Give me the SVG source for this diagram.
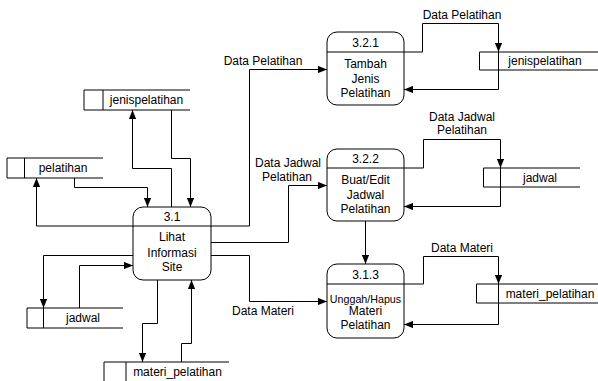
<svg xmlns="http://www.w3.org/2000/svg" width="598" height="381" viewBox="0 0 598 381">
<style>
.n{fill:#fff;stroke:#000;stroke-width:1}
.d{stroke:#000;stroke-width:1;fill:none}
.s{stroke:#000;stroke-width:1;fill:none}
.c{stroke:#000;stroke-width:1;fill:none;marker-end:url(#a)}
text{font-family:"Liberation Sans",Arial,sans-serif;font-size:12px;fill:#000;text-anchor:middle}
.sm{font-size:10.7px}
</style>
<defs>
<marker id="a" viewBox="0 0 10 8" markerUnits="userSpaceOnUse" markerWidth="9" markerHeight="7.5" refX="10" refY="4" orient="auto">
<path d="M0,0 L10,4 L0,8 z" fill="#000"/>
</marker>
</defs>
<rect width="598" height="381" fill="#fff"/>
<g id="connectors">
<path class="c" d="M171.5,207 V168.5 H132.5 V110"/>
<path class="c" d="M171.5,110 V158.5 H190.5 V207"/>
<path class="c" d="M74.5,178 V187.5 H147.5 V207"/>
<path class="c" d="M133,226 H36.5 V178"/>
<path class="c" d="M211,226 H249.5 V69.5 H327"/>
<path class="c" d="M211,242.5 H288.5 V185.5 H327"/>
<path class="c" d="M211,255.5 H249.5 V301.5 H327"/>
<path class="c" d="M133,255.5 H43.5 V308"/>
<path class="c" d="M79.5,308 V265.5 H133"/>
<path class="c" d="M157.5,280 V323.5 H142.5 V362"/>
<path class="c" d="M181.5,362 V343.5 H191.5 V280"/>
<path class="c" d="M404,52 H422.5 V23.5 H498.5 V52"/>
<path class="c" d="M498.5,70 V89.5 H404"/>
<path class="c" d="M404,168 H423.5 V139.5 H500.5 V168"/>
<path class="c" d="M500.5,187 V206.5 H404"/>
<path class="c" d="M365.5,221 V264"/>
<path class="c" d="M404,284 H423.5 V256.5 H498.5 V284"/>
<path class="c" d="M498.5,303 V324.5 H404"/>
<text x="263" y="65">Data Pelatihan</text>
<text x="462" y="19">Data Pelatihan</text>
<text x="288" y="167">Data Jadwal</text>
<text x="287" y="181">Pelatihan</text>
<text x="462" y="121">Data Jadwal</text>
<text x="462" y="134">Pelatihan</text>
<text x="263" y="315">Data Materi</text>
<text x="462" y="252">Data Materi</text>
</g>
<g id="p31">
<rect class="n" x="133" y="207" width="78" height="73" rx="10"/>
<path class="d" d="M133,226 H211"/>
<text x="172" y="221">3.1</text>
<text x="172" y="241">Lihat</text>
<text x="172" y="256.5">Informasi</text>
<text x="172" y="271">Site</text>
</g>
<g id="p321">
<rect class="n" x="327" y="32" width="77" height="73" rx="10"/>
<path class="d" d="M327,52 H404"/>
<text x="365.5" y="47">3.2.1</text>
<text x="365.5" y="67.5">Tambah</text>
<text x="365.5" y="82.5">Jenis</text>
<text x="365.5" y="97">Pelatihan</text>
</g>
<g id="p322">
<rect class="n" x="327" y="149" width="77" height="72" rx="10"/>
<path class="d" d="M327,168 H404"/>
<text x="365.5" y="162.5">3.2.2</text>
<text x="365.5" y="184">Buat/Edit</text>
<text x="365.5" y="199">Jadwal</text>
<text x="365.5" y="213">Pelatihan</text>
</g>
<g id="p313">
<rect class="n" x="327" y="264" width="77" height="74" rx="10"/>
<path class="d" d="M327,284 H404"/>
<text x="365.5" y="278.5">3.1.3</text>
<text class="sm" x="365.5" y="302.5">Unggah/Hapus</text>
<text x="365.5" y="315">Materi</text>
<text x="365.5" y="328.5">Pelatihan</text>
</g>
<g id="s-jenis-left">
<path class="s" d="M190,90 H84 V110 H190 M103,90 V110"/>
<text x="146.5" y="104">jenispelatihan</text>
</g>
<g id="s-pelatihan">
<path class="s" d="M103,158 H7 V178 H103 M24.5,158 V178"/>
<text x="63" y="172">pelatihan</text>
</g>
<g id="s-jadwal-left">
<path class="s" d="M123,308 H27 V328 H123 M43.5,308 V328"/>
<text x="83" y="322">jadwal</text>
</g>
<g id="s-materi-bottom">
<path class="s" d="M229,362 H104 V383 H229 M126,362 V383"/>
<text x="177.5" y="376">materi_pelatihan</text>
</g>
<g id="s-jenis-right">
<path class="s" d="M598,52 H479.5 V70 H598 M498.5,52 V70"/>
<text x="545" y="65">jenispelatihan</text>
</g>
<g id="s-jadwal-right">
<path class="s" d="M580,168 H483.5 V187 H580 M500.5,168 V187"/>
<text x="540" y="181.5">jadwal</text>
</g>
<g id="s-materi-right">
<path class="s" d="M598,284 H476.5 V303 H598 M498.5,284 V303"/>
<text x="550" y="298">materi_pelatihan</text>
</g>
</svg>
